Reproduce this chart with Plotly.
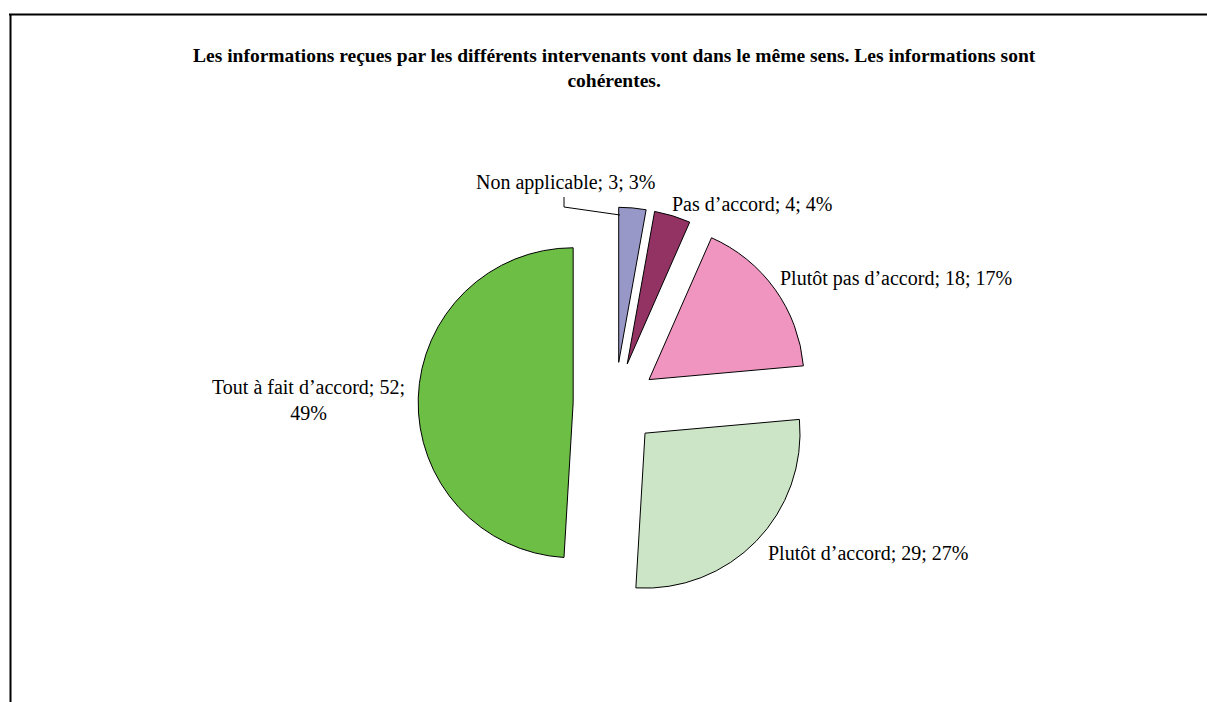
import plotly.graph_objects as go

labels = ["Non applicable", "Pas d\u2019accord", "Plut\u00f4t pas d\u2019accord", "Plut\u00f4t d\u2019accord", "Tout \u00e0 fait d\u2019accord"]
values = [3, 4, 18, 29, 52]
percents = [3, 4, 17, 27, 49]
colors = ["#9898C8", "#933364", "#F095C0", "#CCE5C6", "#6CBE45"]
title_text = "Les informations reçues par les différents intervenants vont dans le même sens. Les informations sont<br>cohérentes."

W, H = 1207, 702
def px(x):
    return x / W
def py(y):
    return 1 - y / H

# pie geometry (pixels)
cx, cy, r, pull = 615, 404, 155, 0.27
half = r * (1 + pull)

fig = go.Figure(go.Pie(
    labels=labels, values=values, sort=False, direction="clockwise", rotation=0,
    pull=[pull] * len(values),
    marker=dict(colors=colors, line=dict(color="#000000", width=1)),
    textinfo="none", hoverinfo="label+value+percent", showlegend=False,
    domain=dict(x=[px(cx - half), px(cx + half)], y=[py(cy + half), py(cy - half)]),
))

serif = "Liberation Serif, Times New Roman, serif"
# label positions (pixel centers)
label_pos = [(565, 182), (752, 204), (896, 279), (868, 553), (308, 400)]
annotations = []
for i, (lab, v, p) in enumerate(zip(labels, values, percents)):
    txt = f"{lab}; {v}; {p}%"
    if i == 4:
        txt = f"{lab}; {v};<br>{p}%"
    x, y = label_pos[i]
    annotations.append(dict(x=px(x), y=py(y), xref="paper", yref="paper", text=txt,
                            showarrow=False, xanchor="center", yanchor="middle",
                            font=dict(family=serif, size=20, color="#000000")))
annotations.append(dict(x=px(614), y=py(68), xref="paper", yref="paper",
                        text="<b>" + title_text + "</b>", showarrow=False,
                        xanchor="center", yanchor="middle",
                        font=dict(family=serif, size=19.5, color="#000000")))

shapes = [
    dict(type="line", xref="paper", yref="paper", x0=px(9), x1=px(1207), y0=py(14.5), y1=py(14.5),
         line=dict(color="#000000", width=2)),
    dict(type="line", xref="paper", yref="paper", x0=px(10.5), x1=px(10.5), y0=py(14), y1=py(702),
         line=dict(color="#000000", width=2)),
    dict(type="path", xref="paper", yref="paper",
         path=f"M {px(564)} {py(197)} L {px(564)} {py(207)} L {px(620)} {py(215)}",
         line=dict(color="#000000", width=1)),
]

fig.update_layout(width=W, height=H, margin=dict(l=0, r=0, t=0, b=0),
                  paper_bgcolor="#FFFFFF", plot_bgcolor="#FFFFFF",
                  annotations=annotations, shapes=shapes)
fig.write_html("out.html")
